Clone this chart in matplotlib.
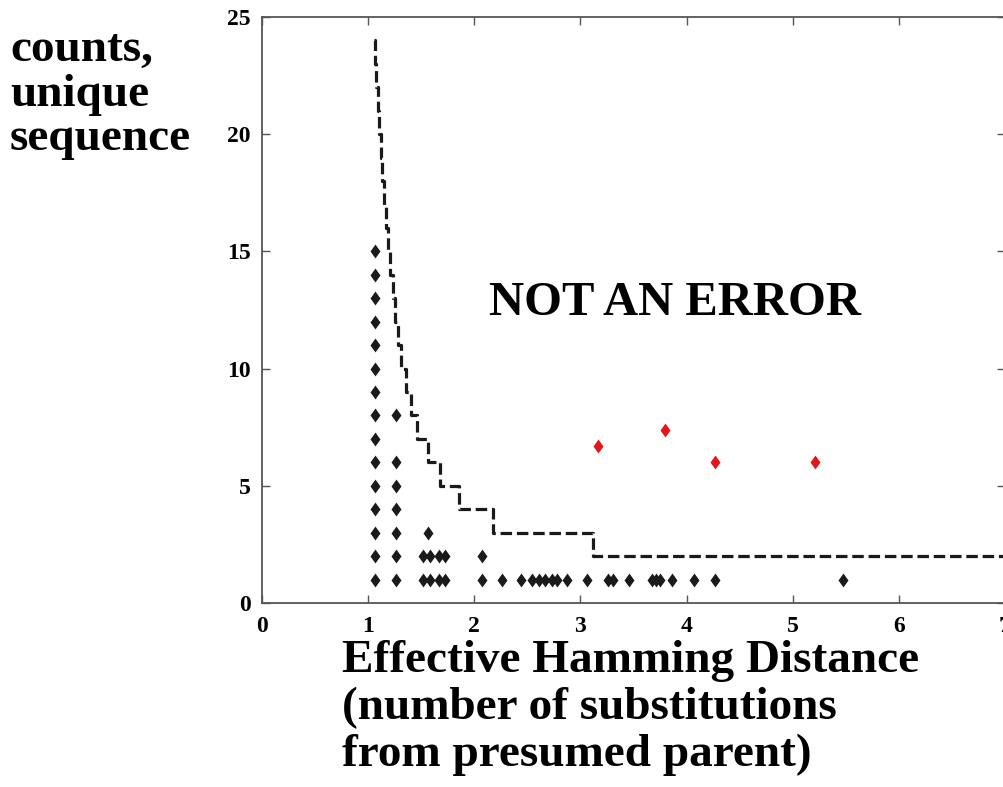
import matplotlib
matplotlib.use("Agg")
import matplotlib.pyplot as plt

# black diamonds: (distance, count)
black_x = [1.06] * 15 + [1.26] * 7 + [1.56] + [1.52, 1.58, 1.67, 1.72, 2.07] + [
    1.52, 1.58, 1.67, 1.72, 2.07, 2.26, 2.44, 2.54, 2.61, 2.67, 2.73, 2.78,
    2.87, 3.06, 3.26, 3.31, 3.46, 3.67, 3.71, 3.75, 3.86, 4.07, 4.27, 5.47]
black_y = list(range(1, 16)) + [1, 2, 3, 4, 5, 6, 8] + [3] + [2] * 5 + [1] * 24

# red diamonds
red_x = [3.17, 3.80, 4.27, 5.21]
red_y = [6.7, 7.4, 6.0, 6.0]

# error threshold staircase (left edge of each level, last value = right end)
step_x = [1.057, 1.065, 1.075, 1.09, 1.10, 1.12, 1.135, 1.15, 1.17, 1.19,
          1.21, 1.23, 1.25, 1.28, 1.31, 1.355, 1.40, 1.46, 1.56, 1.675,
          1.86, 2.18, 3.12, 7.05]
step_y = [24, 23, 22, 21, 20, 19, 18, 17, 16, 15, 14, 13, 12, 11, 10, 9,
          8, 7, 6, 5, 4, 3, 2, 2]

x_ticks = [0, 1, 2, 3, 4, 5, 6, 7]
y_ticks = [0, 5, 10, 15, 20, 25]

plt.rcParams['font.family'] = ['Liberation Serif', 'DejaVu Serif']
plt.rcParams['font.weight'] = 'bold'

diamond = [(0, -1), (0.72, 0), (0, 1), (-0.72, 0), (0, -1)]

fig = plt.figure(figsize=(10.04, 7.87), dpi=100)
ax = fig.add_axes([262 / 1004, 184 / 787, 743 / 1004, 586 / 787])

ax.step(step_x, step_y, where='post', color='#1a1a1a', linewidth=2.3,
        linestyle=(0, (3.6, 1.5)), zorder=2)
ax.plot(black_x, black_y, linestyle='none', marker=diamond, markersize=10,
        color='#1a1a1a', markeredgewidth=0, zorder=3)
ax.plot(red_x, red_y, linestyle='none', marker=diamond, markersize=10,
        color='#e3161b', markeredgewidth=0, zorder=3)

ax.text(2.14, 12.8, 'NOT AN ERROR', fontsize=35, fontweight='bold',
        ha='left', va='center')

ax.set_xlim(0, 7)
ax.set_ylim(0, 25)
ax.set_xticks(x_ticks)
ax.set_yticks(y_ticks)
ax.tick_params(direction='in', length=6, width=1, color='#555555',
               top=True, right=True, labelsize=17)
ax.tick_params(axis='x', pad=9)
ax.tick_params(axis='y', pad=8)
for lbl in ax.get_xticklabels() + ax.get_yticklabels():
    lbl.set_fontweight('bold')
for sp in ax.spines.values():
    sp.set_color('#555555')
    sp.set_linewidth(1.3)

ax.set_ylabel('counts,\nunique\nsequence', fontsize=34, fontweight='bold',
              rotation=0, ha='left', va='top', linespacing=1.08)
ax.yaxis.set_label_coords(10 / 1004, 1 - 29 / 787, transform=fig.transFigure)

ax.set_xlabel('Effective Hamming Distance\n(number of substitutions\nfrom presumed parent)',
              fontsize=34, fontweight='bold', ha='left', va='bottom',
              multialignment='left', linespacing=1.15)
ax.xaxis.set_label_coords(342 / 1004, 1 - 776 / 787, transform=fig.transFigure)

fig.savefig('out.png', dpi=100)
